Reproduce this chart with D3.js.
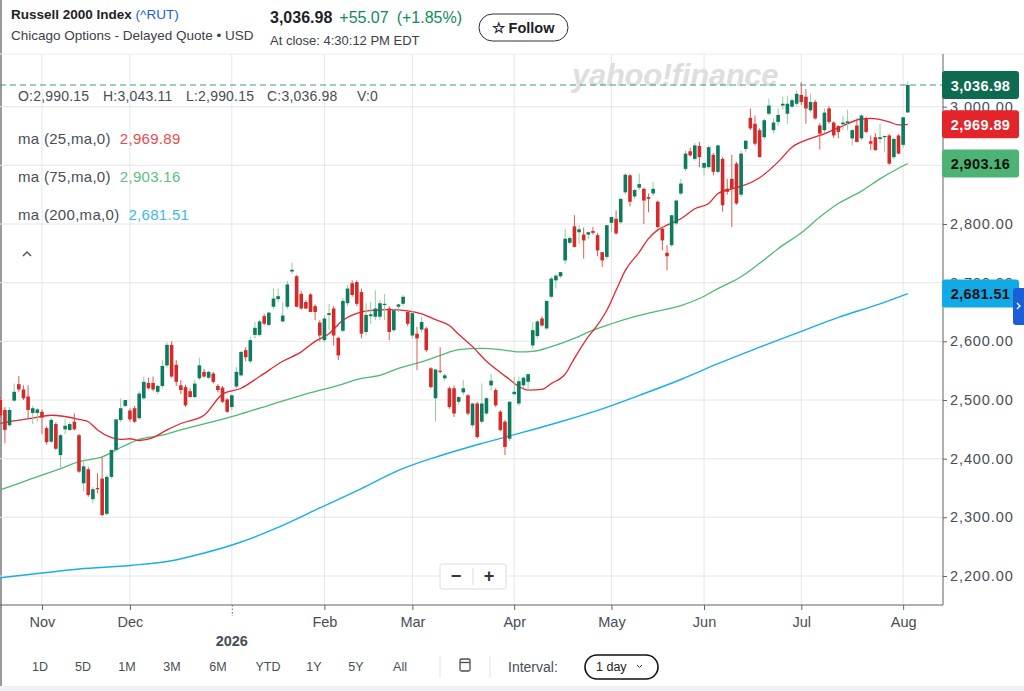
<!DOCTYPE html>
<html>
<head>
<meta charset="utf-8">
<script src="https://cdn.jsdelivr.net/npm/d3@7"></script>
<style>
  body { margin: 0; background: #fff; }
  svg { display: block; font-family: "Liberation Sans", Arial, sans-serif; }
</style>
</head>
<body>
<div id="chart"></div>
<script>
// daily candles, [open, high, low, close], first one is half off the left edge
var ohlc = [
  [2500,2505,2470,2474],[2483,2488,2426,2449],[2457,2488,2454,2483],[2499,2528,2497,2514],[2527,2541,2514,2518],
  [2518,2525,2500,2503],[2506,2525,2469,2483],[2478,2490,2459,2486],[2478,2486,2463,2484],[2480,2484,2442,2470],
  [2452,2455,2424,2428],[2429,2470,2426,2466],[2459,2462,2415,2417],[2406,2442,2381,2440],[2450,2467,2442,2456],
  [2449,2462,2447,2459],[2463,2477,2448,2450],[2440,2442,2376,2378],[2358,2398,2344,2387],[2382,2386,2335,2338],
  [2331,2352,2324,2348],[2350,2375,2341,2348],[2366,2403,2302,2304],[2306,2372,2303,2369],[2369,2415,2366,2415],
  [2415,2467,2412,2467],[2466,2503,2462,2486],[2490,2500,2488,2500],[2482,2486,2463,2467],[2486,2490,2461,2463],
  [2469,2515,2466,2511],[2503,2540,2500,2531],[2529,2538,2518,2520],[2529,2540,2515,2518],[2514,2526,2510,2524],
  [2524,2568,2520,2558],[2559,2598,2555,2594],[2594,2600,2538,2540],[2560,2568,2524,2531],[2525,2534,2510,2517],
  [2522,2526,2488,2491],[2515,2520,2505,2505],[2505,2534,2503,2528],[2537,2572,2534,2559],[2548,2553,2538,2540],
  [2538,2550,2535,2548],[2545,2548,2528,2531],[2524,2527,2513,2517],[2521,2524,2495,2497],[2501,2503,2478,2480],
  [2488,2510,2482,2508],[2523,2556,2520,2548],[2542,2584,2540,2582],[2585,2590,2566,2573],[2566,2608,2563,2602],
  [2611,2633,2605,2623],[2611,2637,2608,2634],[2643,2647,2628,2630],[2628,2650,2626,2649],[2659,2690,2655,2673],
  [2672,2690,2667,2677],[2634,2667,2632,2644],[2659,2703,2655,2697],[2719,2734,2715,2722],[2711,2713,2658,2659],
  [2681,2686,2654,2656],[2667,2670,2655,2656],[2680,2682,2650,2650],[2660,2663,2636,2650],[2632,2636,2600,2610],
  [2602,2645,2598,2639],[2645,2664,2619,2648],[2656,2660,2593,2610],[2606,2608,2568,2576],[2618,2674,2615,2669],
  [2665,2696,2660,2690],[2699,2704,2676,2679],[2701,2704,2660,2664],[2684,2690,2605,2613],[2616,2665,2610,2645],
  [2643,2667,2630,2646],[2642,2687,2636,2656],[2642,2670,2636,2665],[2662,2681,2636,2664],[2656,2660,2602,2616],
  [2619,2656,2616,2653],[2659,2664,2650,2663],[2664,2679,2660,2676],[2650,2653,2626,2630],[2610,2652,2605,2648],
  [2613,2625,2551,2605],[2620,2642,2615,2633],[2622,2625,2582,2585],[2554,2556,2520,2522],[2503,2553,2463,2552],
  [2550,2590,2545,2548],[2537,2545,2533,2542],[2520,2523,2485,2488],[2520,2525,2471,2477],[2497,2506,2492,2505],
  [2513,2534,2509,2520],[2508,2510,2474,2477],[2457,2495,2453,2494],[2494,2497,2434,2437],[2463,2528,2460,2494],
  [2477,2505,2474,2503],[2525,2545,2516,2533],[2517,2520,2488,2491],[2480,2483,2447,2449],[2463,2466,2406,2420],
  [2434,2498,2430,2497],[2510,2540,2508,2514],[2494,2540,2490,2532],[2525,2540,2520,2538],[2531,2545,2516,2544],
  [2593,2633,2588,2619],[2609,2637,2605,2634],[2639,2643,2625,2627],[2622,2669,2620,2669],[2676,2710,2673,2707],
  [2704,2715,2690,2712],[2711,2718,2708,2718],[2738,2792,2732,2775],[2768,2779,2765,2776],[2796,2815,2760,2761],
  [2786,2798,2766,2791],[2782,2794,2741,2772],[2782,2787,2774,2786],[2788,2795,2782,2785],[2781,2785,2745,2755],
  [2752,2752,2727,2738],[2744,2798,2740,2798],[2802,2812,2786,2812],[2809,2823,2782,2784],[2803,2843,2800,2843],
  [2854,2887,2850,2884],[2883,2885,2830,2838],[2847,2860,2843,2858],[2862,2886,2858,2868],[2860,2862,2800,2840],
  [2846,2852,2820,2843],[2852,2872,2848,2860],[2838,2840,2793,2795],[2792,2794,2755,2772],[2751,2764,2721,2745],
  [2764,2815,2761,2815],[2801,2842,2798,2840],[2852,2877,2849,2869],[2894,2925,2890,2920],[2924,2930,2915,2917],
  [2911,2938,2908,2934],[2933,2940,2897,2914],[2896,2905,2883,2904],[2897,2934,2894,2931],[2918,2921,2883,2889],
  [2889,2935,2886,2934],[2911,2914,2821,2832],[2860,2877,2850,2855],[2877,2918,2795,2860],[2903,2906,2833,2835],
  [2850,2925,2846,2920],[2928,2943,2922,2942],[2981,2997,2960,2963],[2971,2985,2934,2937],[2960,2963,2914,2914],
  [2948,2980,2945,2977],[2988,3014,2985,3002],[2960,2980,2955,2973],[2974,2997,2968,2986],[3002,3017,2995,3005],
  [2988,3019,2971,3005],[3000,3015,2998,3011],[3005,3028,3000,3022],[3020,3042,3003,3008],[3017,3030,2971,2997],
  [2994,3022,2990,3008],[3008,3012,2978,2980],[2968,2972,2927,2954],[2960,2997,2955,2990],[2997,3001,2971,2974],
  [2973,2975,2947,2951],[2967,2968,2946,2957],[2970,2985,2960,2973],[2972,2995,2960,2975],[2946,2962,2934,2960],
  [2968,2980,2939,2940],[2946,2987,2943,2985],[2980,2983,2955,2957],[2941,2951,2926,2937],[2948,2955,2925,2926],
  [2945,2971,2938,2948],[2948,2951,2922,2950],[2951,2953,2901,2903],[2914,2948,2910,2945],[2951,2953,2919,2920],
  [2935,2983,2930,2981.91],[2990.15,3043.11,2990.15,3036.98]
];

// moving averages, [day index, value]
var ma25 = [[0,2460],[2,2463],[7,2469],[11,2474],[17,2467],[19,2463],[21,2449],[24,2436],[26,2433],[28,2434],
  [30,2431],[33,2436],[36,2449],[39,2460],[44,2474],[48,2510],[52,2520],[56,2540],[61,2566],[65,2582],[68,2600],
  [71,2613],[74,2636],[78,2650],[81,2653],[84,2654],[88,2652],[91,2647],[94,2637],[97,2627],[99,2612],[102,2591],
  [105,2566],[108,2547],[110,2535],[112,2523],[114,2517],[117,2518],[119,2528],[122,2544],[124,2571],[127,2608],
  [129,2628],[131,2653],[133,2687],[135,2721],[138,2752],[140,2775],[142,2790],[144,2798],[147,2809],[150,2826],
  [153,2835],[155,2852],[158,2860],[160,2864],[164,2879],[168,2906],[171,2931],[174,2943],[177,2951],[181,2964],
  [186,2979],[188,2980],[192,2974],[194,2969],[196,2969.89]];
var ma75 = [[0,2347],[4,2358],[9,2372],[13,2383],[17,2395],[22,2403],[26,2419],[30,2433],[35,2440],[39,2449],
  [51,2474],[58,2491],[65,2508],[73,2525],[78,2537],[82,2542],[86,2554],[91,2565],[95,2576],[99,2586],[104,2588],
  [108,2586],[112,2582],[115,2583],[119,2591],[124,2605],[128,2619],[132,2630],[137,2642],[141,2650],[147,2661],
  [151,2673],[155,2690],[160,2710],[164,2733],[168,2758],[173,2785],[177,2812],[181,2835],[186,2856],[190,2877],
  [194,2895],[196,2903.16]];
var ma200 = [[0,2197],[9,2205],[17,2212],[28,2218],[37,2226],[43,2237],[52,2258],[60,2283],[69,2316],[78,2349],
  [86,2380],[95,2405],[104,2426],[112,2443],[121,2463],[130,2485],[138,2508],[147,2535],[155,2562],[164,2590],
  [173,2617],[181,2641],[190,2664],[196,2681.51]];

var monthDays = [9, 28, 50, 70, 89, 111, 132, 152, 173, 195];
var monthLabels = ["Nov", "Dec", "2026", "Feb", "Mar", "Apr", "May", "Jun", "Jul", "Aug"];
var priceTicks = [2200, 2300, 2400, 2500, 2600, 2700, 2800, 2900, 3000];
var ohlcLabels = ["O:2,990.15", "H:3,043.11", "L:2,990.15", "C:3,036.98", "V:0"];
var rangeLabels = ["1D", "5D", "1M", "3M", "6M", "YTD", "1Y", "5Y", "All"];

var W = 1024, H = 691;
var plot = {left: 0, right: 943, top: 54, bottom: 605};

var svg = d3.select("#chart").append("svg").attr("width", W).attr("height", H);

var x = d3.scaleLinear().domain([0, 196]).range([0.3, 0.3 + 4.63 * 196]);
var y = d3.scaleLinear().domain([2200, 3000]).range([576, 106.7]);
var fmt = d3.format(",.2f");

// ---- header
var head = svg.append("g").style("fill", "#1d2228");
var t1 = head.append("text").attr("x", 11).attr("y", 19).style("font-size", "13.5px").style("font-weight", "bold");
t1.append("tspan").text("Russell 2000 Index ");
t1.append("tspan").text("(^RUT)").style("fill", "#1a5dd6").style("font-weight", "normal");
head.append("text").attr("x", 11).attr("y", 40).style("font-size", "13.5px").style("fill", "#3b4148")
  .text("Chicago Options - Delayed Quote \u2022 USD");
var t2 = head.append("text").attr("x", 270).attr("y", 23).style("font-size", "16px");
t2.append("tspan").text("3,036.98").style("font-weight", "bold");
t2.append("tspan").attr("dx", 7).text("+55.07").style("fill", "#0f8a5f");
t2.append("tspan").attr("dx", 8).text("(+1.85%)").style("fill", "#0f8a5f");
head.append("text").attr("x", 270).attr("y", 45).style("font-size", "13px").style("fill", "#3b4148")
  .text("At close: 4:30:12 PM EDT");
head.append("rect").attr("x", 479).attr("y", 14).attr("width", 89).attr("height", 27).attr("rx", 13.5)
  .style("fill", "#fff").style("stroke", "#2a2f35").style("stroke-width", 1);
head.append("text").attr("x", 523).attr("y", 33).attr("text-anchor", "middle").style("font-size", "14.5px")
  .style("font-weight", "bold").text("\u2606 Follow");

svg.append("rect").attr("x", 0).attr("y", 0).attr("width", 2).attr("height", H).style("fill", "#9a9a9a");

// ---- grid
svg.append("line").attr("x1", 0).attr("x2", W).attr("y1", plot.top).attr("y2", plot.top)
  .style("stroke", "#ececec");
svg.append("g").selectAll("line").data(priceTicks).enter().append("line")
  .attr("x1", plot.left).attr("x2", plot.right)
  .attr("y1", function (d) { return y(d); }).attr("y2", function (d) { return y(d); })
  .style("stroke", "#e6e6e6");
svg.append("g").selectAll("line").data(monthDays).enter().append("line")
  .attr("x1", function (d) { return x(d); }).attr("x2", function (d) { return x(d); })
  .attr("y1", plot.top).attr("y2", plot.bottom)
  .style("stroke", "#e6e6e6");

// watermark
svg.append("text").attr("x", 572).attr("y", 86).style("font-size", "31px").style("font-weight", "bold")
  .style("font-style", "italic").style("fill", "#dedede").style("letter-spacing", "-0.3px").text("yahoo!finance");

// ---- marks
svg.append("clipPath").attr("id", "clip").append("rect")
  .attr("x", plot.left).attr("y", plot.top).attr("width", plot.right - plot.left).attr("height", plot.bottom - plot.top);
var g = svg.append("g").attr("clip-path", "url(#clip)");

var line = d3.line().x(function (d) { return x(d[0]); }).y(function (d) { return y(d[1]); }).curve(d3.curveMonotoneX);
g.append("path").datum(ma200).attr("d", line).style("fill", "none").style("stroke", "#17aeea").style("stroke-width", 1.4);
g.append("path").datum(ma75).attr("d", line).style("fill", "none").style("stroke", "#4cbb72").style("stroke-width", 1.3);
g.append("path").datum(ma25).attr("d", line).style("fill", "none").style("stroke", "#e8252f").style("stroke-width", 1.3);

var candle = g.append("g").selectAll("g").data(ohlc).enter().append("g");
candle.append("line")
  .attr("x1", function (d, i) { return x(i); }).attr("x2", function (d, i) { return x(i); })
  .attr("y1", function (d) { return y(d[1]); }).attr("y2", function (d) { return y(d[2]); })
  .style("stroke", function (d) { return d[3] >= d[0] ? "#8fcf98" : "#df5a50"; })
  .style("stroke-width", 1);
candle.append("rect")
  .attr("x", function (d, i) { return x(i) - 1.8; })
  .attr("width", 3.6)
  .attr("y", function (d) { return y(Math.max(d[0], d[3])); })
  .attr("height", function (d) { return Math.max(1, Math.abs(y(d[0]) - y(d[3]))); })
  .style("fill", function (d) { return d[3] >= d[0] ? "#0c7b5f" : "#d42a2a"; });

// last price dashed line
var last = ohlc[ohlc.length - 1];
svg.append("line").attr("x1", 0).attr("x2", plot.right).attr("y1", y(last[3])).attr("y2", y(last[3]))
  .style("stroke", "#3a9c80").style("stroke-dasharray", "6,4").style("stroke-width", 1);

// ---- right axis (2,900.00 sits fully under the ma75 box, so its label is left out)
svg.append("line").attr("x1", plot.right).attr("x2", plot.right).attr("y1", plot.top).attr("y2", plot.bottom)
  .style("stroke", "#5b636a");
var yAxis = svg.append("g").attr("transform", "translate(" + plot.right + ",0)")
  .call(d3.axisRight(y).tickValues(priceTicks).tickSize(4).tickPadding(3)
    .tickFormat(function (d) { return d === 2900 ? "" : fmt(d); }));
yAxis.select(".domain").remove();
yAxis.selectAll("line").style("stroke", "#5b636a");
yAxis.selectAll("text").style("font-size", "14.5px").style("fill", "#464e56").style("letter-spacing", "0.9px")
  .style("font-family", "Liberation Sans, Arial, sans-serif");

// ---- bottom axis
svg.append("line").attr("x1", 0).attr("x2", plot.right).attr("y1", plot.bottom).attr("y2", plot.bottom)
  .style("stroke", "#5b636a");
var xAxis = svg.append("g").attr("transform", "translate(0," + plot.bottom + ")")
  .call(d3.axisBottom(x).tickValues(monthDays).tickSize(5).tickPadding(7)
    .tickFormat(function (d, i) { return monthLabels[i] === "2026" ? "" : monthLabels[i]; }));
xAxis.select(".domain").remove();
xAxis.selectAll("line").style("stroke", "#5b636a");
xAxis.selectAll("text").style("font-size", "14.5px").style("fill", "#464e56")
  .style("font-family", "Liberation Sans, Arial, sans-serif");
var yearIdx = monthLabels.indexOf("2026");
xAxis.selectAll(".tick").filter(function (d, i) { return i === yearIdx; }).select("line")
  .attr("y2", 11).style("stroke-dasharray", "1.5,2");
xAxis.append("text").attr("x", x(monthDays[yearIdx])).attr("y", 41).attr("text-anchor", "middle")
  .style("font-size", "14.5px").style("font-weight", "bold").style("fill", "#464e56").text("2026");

// ---- price boxes on the axis
var boxes = [
  {v: last[3], fill: "#0e6b52", txt: "#fff"},
  {v: ma25[ma25.length - 1][1], fill: "#e3242b", txt: "#fff"},
  {v: ma75[ma75.length - 1][1], fill: "#4db374", txt: "#111"},
  {v: ma200[ma200.length - 1][1], fill: "#11a9e6", txt: "#111"}
];
var bx = svg.append("g").selectAll("g").data(boxes).enter().append("g");
bx.append("rect").attr("x", 942).attr("width", 77).attr("height", 28).attr("rx", 3)
  .attr("y", function (d) { return y(d.v) - 14; }).style("fill", function (d) { return d.fill; });
bx.append("text").attr("x", 980.5).attr("y", function (d) { return y(d.v) + 5.5; }).attr("text-anchor", "middle")
  .style("font-size", "14.5px").style("font-weight", "bold").style("letter-spacing", "0.4px")
  .style("fill", function (d) { return d.txt; }).text(function (d) { return fmt(d.v); });

svg.append("rect").attr("x", 1013).attr("y", 288).attr("width", 14).attr("height", 37).attr("rx", 3).style("fill", "#1b5fd6");
svg.append("path").attr("d", "M1017,303 l3,3 l-3,3").style("fill", "none").style("stroke", "#fff").style("stroke-width", 1.3);

// ---- legend
var leg = svg.append("g").style("font-size", "15px").style("letter-spacing", "0.3px");
var ohlcX = [18, 103, 186, 267, 357];
leg.selectAll("text.ohlc").data(ohlcLabels).enter().append("text").attr("class", "ohlc")
  .attr("x", function (d, i) { return ohlcX[i]; }).attr("y", 101).style("fill", "#464e56")
  .style("font-size", "14px").style("letter-spacing", "0.2px")
  .text(function (d) { return d; });
var maRows = [
  {name: "ma (25,ma,0)", v: ma25[ma25.length - 1][1], c: "#ea4a4f"},
  {name: "ma (75,ma,0)", v: ma75[ma75.length - 1][1], c: "#5cbf80"},
  {name: "ma (200,ma,0)", v: ma200[ma200.length - 1][1], c: "#3bb8ef"}
];
maRows.forEach(function (r, i) {
  var t = leg.append("text").attr("x", 18).attr("y", 144 + i * 38).style("fill", "#464e56");
  t.append("tspan").text(r.name);
  t.append("tspan").attr("dx", 9).style("fill", r.c).text(fmt(r.v));
});
leg.append("path").attr("d", "M23,256 l4,-4 l4,4").style("fill", "none").style("stroke", "#464e56").style("stroke-width", 1.4);

// zoom buttons
var zb = svg.append("g");
zb.append("rect").attr("x", 440).attr("y", 564).attr("width", 66).attr("height", 25).attr("rx", 2)
  .style("fill", "#fff").style("stroke", "#dcdcdc");
zb.append("line").attr("x1", 473).attr("x2", 473).attr("y1", 568).attr("y2", 585).style("stroke", "#dcdcdc");
zb.append("text").attr("x", 456).attr("y", 582).attr("text-anchor", "middle").style("font-size", "18px")
  .style("font-weight", "bold").style("fill", "#333").text("\u2212");
zb.append("text").attr("x", 489).attr("y", 582).attr("text-anchor", "middle").style("font-size", "18px")
  .style("font-weight", "bold").style("fill", "#333").text("+");

// ---- bottom controls
var rangeX = [40, 83, 127, 172, 218, 268, 314, 356, 400];
svg.append("g").selectAll("text").data(rangeLabels).enter().append("text")
  .attr("x", function (d, i) { return rangeX[i]; }).attr("y", 671).attr("text-anchor", "middle")
  .style("font-size", "12.5px").style("fill", "#464e56").text(function (d) { return d; });
svg.append("line").attr("x1", 440).attr("x2", 440).attr("y1", 656).attr("y2", 678).style("stroke", "#e2e2e2");
svg.append("line").attr("x1", 490).attr("x2", 490).attr("y1", 656).attr("y2", 678).style("stroke", "#e2e2e2");
svg.append("rect").attr("x", 460).attr("y", 659).attr("width", 10).attr("height", 12).attr("rx", 1.5)
  .style("fill", "none").style("stroke", "#464e56").style("stroke-width", 1.3);
svg.append("line").attr("x1", 460).attr("x2", 470).attr("y1", 662.5).attr("y2", 662.5).style("stroke", "#464e56").style("stroke-width", 1.3);
svg.append("text").attr("x", 508).attr("y", 672).style("font-size", "14px").style("fill", "#464e56").text("Interval:");
svg.append("rect").attr("x", 585).attr("y", 655).attr("width", 73).attr("height", 24).attr("rx", 12)
  .style("fill", "#fff").style("stroke", "#111").style("stroke-width", 1.6);
svg.append("text").attr("x", 596).attr("y", 671).style("font-size", "12.5px").style("fill", "#222").text("1 day");
svg.append("path").attr("d", "M637,665 l2.5,2.5 l2.5,-2.5").style("fill", "none").style("stroke", "#333").style("stroke-width", 1);
svg.append("rect").attr("x", 0).attr("y", 686).attr("width", W).attr("height", 5).style("fill", "#eef2f7");
</script>
</body>
</html>
